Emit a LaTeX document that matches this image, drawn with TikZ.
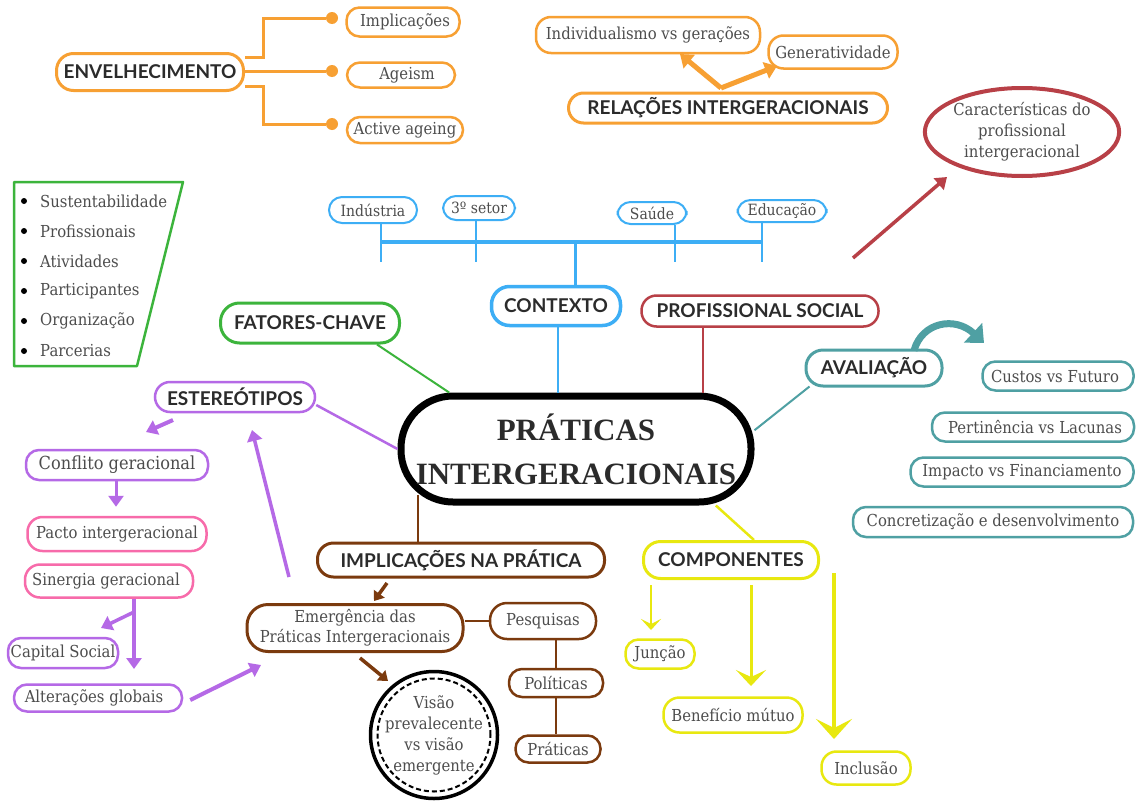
\documentclass[tikz,border=0pt]{standalone}
\usepackage{fontspec}
\setmainfont{DejaVu Serif}[FakeStretch=0.9]
\newfontfamily\hd{Lato}
\newfontfamily\tm{Liberation Serif}
\usetikzlibrary{arrows.meta,shapes.geometric}
\definecolor{cor}{HTML}{F7A033}
\definecolor{cgr}{HTML}{3CB43C}
\definecolor{cbl}{HTML}{3DAEF5}
\definecolor{crd}{HTML}{B84047}
\definecolor{ctl}{HTML}{4FA0A3}
\definecolor{cpu}{HTML}{B569E6}
\definecolor{cpk}{HTML}{F76BAA}
\definecolor{cbr}{HTML}{7B3A0E}
\definecolor{cye}{HTML}{E8E810}
\definecolor{txt}{HTML}{4D4D4D}
\definecolor{hdc}{HTML}{2B2B2B}
\newcommand\bodyf{\fontsize{16.5}{21}\selectfont}
\newcommand\hdf{\hd\bfseries\fontsize{19}{22}\selectfont}
\tikzset{
 bx/.style={draw, rounded corners=13pt, line width=2.5pt, text=txt, font=\bodyf, inner sep=0pt, align=center},
 hb/.style={bx, text=hdc, font=\hdf, line width=3pt, rounded corners=15pt},
 dotn/.style={circle, fill=cor, inner sep=0pt, minimum size=12pt},
 oline/.style={draw=cor, line width=3pt},
 arr/.style={line width=#1, -{Triangle[length=11pt,width=15pt]}},
 item/.style={anchor=west, text=txt, font=\bodyf, inner sep=0pt},
 bul/.style={circle, fill=black, inner sep=0pt, minimum size=6pt}
}
\begin{document}
\begin{tikzpicture}[x=1pt,y=-1pt]
\useasboundingbox (0,0) rectangle (1137,803);
\fill[white] (0,0) rectangle (1137,803);

% ---------- ENVELHECIMENTO ----------
\node[hb, draw=cor, minimum width=187pt, minimum height=37pt, rounded corners=17pt] (env) at (150,72) {ENVELHECIMENTO};
\node[dotn] (d1) at (332,18) {};
\node[dotn] (d2) at (332,71) {};
\node[dotn] (d3) at (332,124) {};
\node[bx, draw=cor, minimum width=113pt, minimum height=29pt] (imp) at (403,22) {\hspace*{4pt}Implicações};
\node[bx, draw=cor, minimum width=108pt, minimum height=25pt] (age) at (401,75) {\hspace*{12pt}Ageism};
\node[bx, draw=cor, minimum width=116pt, minimum height=26pt] (act) at (405,130) {Active ageing};
\draw[oline] ([yshift=15pt]env.east) -- ++(18,0) |- (d1);
\draw[oline] ([yshift=1pt]env.east) -- (d2);
\draw[oline] ([yshift=-14pt]env.east) -- ++(18,0) |- (d3);

% ---------- RELAÇÕES ----------
\node[bx, draw=cor, minimum width=224pt, minimum height=36pt, rounded corners=15pt] (indiv) at (648,35) {Individualismo vs gerações};
\node[bx, draw=cor, minimum width=129pt, minimum height=33pt, rounded corners=15pt] (gen) at (833,52) {Generatividade};
\node[hb, draw=cor, minimum width=319pt, minimum height=30pt] (rel) at (728,108) {RELAÇÕES INTERGERACIONAIS};
\coordinate (oj) at (721,88);
\coordinate (oa1) at (680,54);
\coordinate (oa2) at (777,66);
\draw[cor, line width=5pt, -{Triangle[length=12pt,width=17pt]}] (oj) -- (oa1);
\draw[cor, line width=5pt, -{Triangle[length=12pt,width=17pt]}] (oj) -- (oa2);

% ---------- Características ----------
\node[ellipse, draw=crd, line width=4pt, minimum width=186pt, minimum height=88pt, text=txt, font=\bodyf, align=center, inner sep=0pt] (car) at (1022,132) {Características do\\profissional\\intergeracional};
\coordinate (ra1) at (853,258);
\coordinate (ra2) at (947,177);
\draw[crd, arr=3.5pt] (ra1) -- (ra2);

% ---------- Green list ----------
\coordinate (g1) at (14,182);
\coordinate (g2) at (183,182);
\coordinate (g3) at (137,366);
\coordinate (g4) at (14,366);
\draw[cgr, line width=2.5pt, line join=round] (g1) -- (g2) -- (g3) -- (g4) -- cycle;
\foreach \t [count=\i] in {Sustentabilidade,Profissionais,Atividades,Participantes,Organização,Parcerias}{
  \node[bul] (b\i) at (24,{171+30*\i}) {};
  \node[item] (it\i) at (40,{171+30*\i}) {\t};
}

% ---------- CONTEXTO ----------
\node[bx, draw=cbl, line width=2pt, minimum width=88pt, minimum height=26pt, font=\fontsize{15.5}{17}\selectfont] (ind) at (373,210) {Indústria};
\node[bx, draw=cbl, line width=2pt, minimum width=72pt, minimum height=24pt, font=\fontsize{15.5}{17}\selectfont] (set) at (479,208) {3º setor};
\node[bx, draw=cbl, line width=2pt, minimum width=69pt, minimum height=22pt, font=\fontsize{15.5}{17}\selectfont] (sau) at (652,213) {Saúde};
\node[bx, draw=cbl, line width=2pt, minimum width=89pt, minimum height=22pt, font=\fontsize{15.5}{17}\selectfont] (edu) at (782,211) {Educação};
\coordinate (tl1) at (381,242);
\coordinate (tl2) at (762,242);
\coordinate (t1) at (381,262);
\coordinate (t2) at (476,262);
\coordinate (t3) at (675,262);
\coordinate (t4) at (762,262);
\coordinate (tc) at (575,242);
\draw[cbl, line width=4.5pt] (tl1) -- (tl2);
\draw[cbl, line width=2.5pt] (t1 |- ind.south) -- (t1);
\draw[cbl, line width=2.5pt] (t2 |- set.south) -- (t2);
\draw[cbl, line width=2.5pt] (t3 |- sau.south) -- (t3);
\draw[cbl, line width=2.5pt] (t4 |- edu.south) -- (t4);
\node[hb, draw=cbl, line width=3.5pt, minimum width=129pt, minimum height=39pt, rounded corners=18pt] (ctx) at (556,306) {CONTEXTO};
\draw[cbl, line width=3pt] (tc) -- (tc |- ctx.north);

% ---------- Central ----------
\node[draw=black, line width=7pt, rounded corners=52pt, minimum width=350pt, minimum height=106pt, inner sep=0pt, align=center, text=hdc, font=\tm\bfseries\fontsize{31}{44}\selectfont] (main) at (576,449) {PRÁTICAS\\INTERGERACIONAIS};
\draw[cbl, line width=2pt] ([xshift=2pt]ctx.south) -- ([xshift=2pt]ctx.south |- main.north);

% ---------- FATORES / PROFISSIONAL ----------
\node[hb, draw=cgr, minimum width=179pt, minimum height=40pt, rounded corners=19pt] (fat) at (310,323) {FATORES-CHAVE};
\draw[cgr, line width=2pt] ([xshift=67pt]fat.south) -- (main.156);
\node[hb, draw=crd, line width=2.5pt, minimum width=237pt, minimum height=31pt] (prof) at (760,311) {PROFISSIONAL SOCIAL};
\draw[crd, line width=2.5pt] ([xshift=-57pt]prof.south) -- ([xshift=-57pt]prof.south |- main.north);

% ---------- AVALIAÇÃO ----------
\node[hb, draw=ctl, minimum width=136pt, minimum height=36pt, rounded corners=17pt] (aval) at (874,368) {AVALIAÇÃO};
\draw[ctl, line width=2pt] ([xshift=5pt,yshift=1pt]aval.south west) -- (main.6);
\coordinate (cva) at (984,343);
\draw[ctl, line width=7pt, -{Triangle[length=15pt,width=26pt]}] ([xshift=40pt,yshift=-2pt]aval.north) .. controls (922,322) and (955,316) .. (cva);
\node[bx, draw=ctl, minimum width=151pt, minimum height=29pt] (cus) at (1058,376) {Custos vs Futuro\hspace*{6pt}};
\node[bx, draw=ctl, minimum width=202pt, minimum height=29pt] (per) at (1033,427) {\hspace*{4pt}Pertinência vs Lacunas};
\node[bx, draw=ctl, minimum width=223pt, minimum height=29pt] (imp2) at (1022,472) {Impacto vs Financiamento};
\node[bx, draw=ctl, minimum width=280pt, minimum height=30pt] (con) at (993,522) {Concretização e desenvolvimento};

% ---------- ESTEREÓTIPOS ----------
\node[hb, draw=cpu, line width=2.5pt, minimum width=160pt, minimum height=30pt] (est) at (235,397) {ESTEREÓTIPOS};
\draw[cpu, line width=2.5pt] ([yshift=-8pt]est.east) -- (main.west);
\node[bx, draw=cpu, minimum width=182pt, minimum height=30pt, font=\fontsize{18}{20}\selectfont] (conf) at (117,465) {Conflito geracional};
\node[bx, draw=cpk, minimum width=179pt, minimum height=34pt, rounded corners=15pt] (pac) at (117,534) {Pacto intergeracional};
\node[bx, draw=cpk, minimum width=168pt, minimum height=33pt, rounded corners=15pt] (sin) at (109,581) {Sinergia geracional\hspace*{6pt}};
\node[bx, draw=cpu, minimum width=110pt, minimum height=30pt] (cap) at (63,653) {Capital Social};
\node[bx, draw=cpu, minimum width=168pt, minimum height=27pt] (alt) at (98,698) {Alterações globais\hspace*{8pt}};
\coordinate (pa1) at (173,420);
\coordinate (pa2) at (146,432);
\draw[cpu, arr=4pt] (pa1) -- (pa2);
\draw[cpu, arr=3pt] (conf.south -| 116,0) -- ([yshift=9pt]pac.north -| 116,0);
\coordinate (sv1) at (134,599);
\coordinate (sv2) at (134,669);
\coordinate (sb1) at (134,612);
\coordinate (sb2) at (101,628);
\draw[cpu, arr=3.5pt] (sv1) -- (sv2);
\draw[cpu, arr=3.5pt] (sb1) -- (sb2);
\coordinate (pl1) at (289,577);
\coordinate (pl2) at (252,430);
\draw[cpu, arr=3.5pt] (pl1) -- (pl2);
\coordinate (pg2) at (261,665);
\draw[cpu, arr=4pt] ([xshift=7pt,yshift=-2pt]alt.east) -- (pg2);

% ---------- IMPLICAÇÕES ----------
\node[hb, draw=cbr, minimum width=287pt, minimum height=34pt, rounded corners=16pt] (impl) at (461,560) {IMPLICAÇÕES NA PRÁTICA};
\coordinate (bm) at (418,495);
\draw[cbr, line width=2pt] (bm) -- (bm |- impl.north);
\node[bx, draw=cbr, line width=3pt, minimum width=216pt, minimum height=47pt, rounded corners=21pt, font=\fontsize{16.5}{20}\selectfont] (emer) at (355,628) {Emergência das\\Práticas Intergeracionais};
\node[bx, draw=cbr, minimum width=106pt, minimum height=36pt, rounded corners=17pt] (pes) at (543,621) {Pesquisas};
\node[bx, draw=cbr, minimum width=94pt, minimum height=28pt] (pol) at (556,683) {Políticas};
\node[bx, draw=cbr, minimum width=85pt, minimum height=27pt] (pra) at (558,749) {Práticas};
\draw[cbr, line width=2.5pt] (pes.west) -- (pes.west -| emer.east);
\draw[cbr, line width=2.5pt] ([xshift=13pt]pes.south) -- ([xshift=13pt]pes.south |- pol.north);
\draw[cbr, line width=2.5pt] (pol.south) -- (pol.south |- pra.north);
\coordinate (ba1) at (387,583);
\coordinate (ba2) at (374,601);
\draw[cbr, line width=3.5pt, -{Triangle[length=9pt,width=13pt]}] (ba1) -- (ba2);
\coordinate (bv1) at (360,658);
\coordinate (bv2) at (388,681);
\draw[cbr, line width=3.5pt, -{Triangle[length=9pt,width=13pt]}] (bv1) -- (bv2);
\node[circle, draw=black, line width=3.5pt, minimum size=127pt, inner sep=0pt] (vis) at (434,735) {};
\node[circle, draw=black, line width=2pt, dash pattern=on 5pt off 3pt, minimum size=113pt, inner sep=0pt] (visi) at (vis.center) {};
\node[text=txt, font=\bodyf, align=center, inner sep=0pt] (vist) at (vis.center) {Visão\\prevalecente\\vs visão\\emergente};

% ---------- COMPONENTES ----------
\node[hb, draw=cye, minimum width=175pt, minimum height=37pt, rounded corners=17pt] (comp) at (731,560) {COMPONENTES};
\draw[cye, line width=2.5pt] (main.-22) -- ([xshift=23pt]comp.north);
\node[bx, draw=cye, minimum width=69pt, minimum height=29pt] (jun) at (660,654) {Junção};
\node[bx, draw=cye, minimum width=139pt, minimum height=35pt, rounded corners=16pt] (ben) at (733,715) {Benefício mútuo};
\node[bx, draw=cye, minimum width=89pt, minimum height=33pt, rounded corners=15pt] (inc) at (866,768) {Inclusão};
\coordinate (ya1) at (651,585);
\coordinate (ya2) at (651,630);
\coordinate (yb1) at (751,585);
\coordinate (yb2) at (751,686);
\coordinate (yc1) at (834,573);
\coordinate (yc2) at (834,739);
\draw[cye, line width=2pt, -{Stealth[length=11pt,width=20pt,inset=5pt]}] (ya1) -- (ya2);
\draw[cye, line width=3pt, -{Stealth[length=16pt,width=30pt,inset=7pt]}] (yb1) -- (yb2);
\draw[cye, line width=3.5pt, -{Stealth[length=20pt,width=36pt,inset=9pt]}] (yc1) -- (yc2);
\end{tikzpicture}
\end{document}
